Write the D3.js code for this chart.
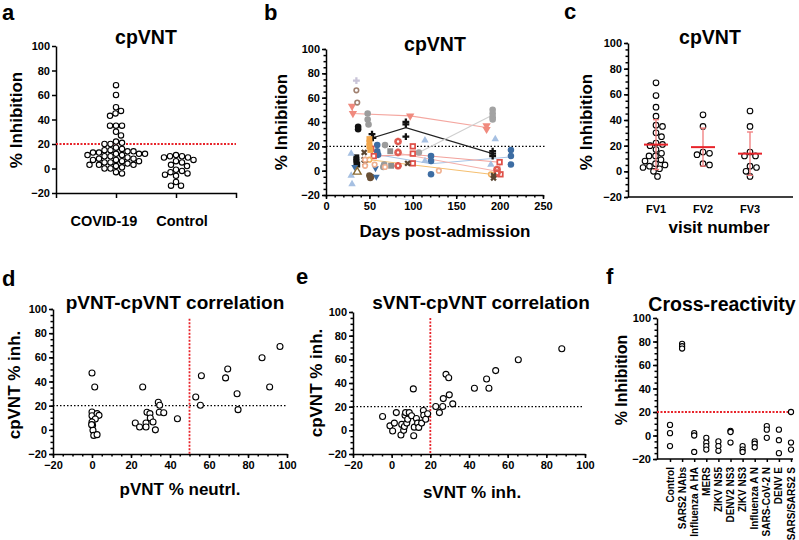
<!DOCTYPE html>
<html>
<head>
<meta charset="utf-8">
<script src="https://cdn.jsdelivr.net/npm/d3@7"></script>
<style>
  body { margin: 0; background: #fff; }
  svg { display: block; }
  text { font-family: 'Liberation Sans', Arial, sans-serif; font-weight: bold; fill: #000; }
</style>
</head>
<body>
<svg id="fig" width="799" height="540"></svg>
<script>
// ---- data ----
const pctTicks = [-20, 0, 20, 40, 60, 80, 100];
const dayTicks = [0, 50, 100, 150, 200, 250];

// a
const groupsA = ["COVID-19", "Control"];
const covidA = [68, 60, 50, 47, 45, 43, 35, 35, 35, 30, 27, 22, 21, 20, 20, 17, 16, 15, 15, 14, 14, 13, 13, 12, 12, 12,
  11, 11, 10, 10, 9, 8, 8, 7, 7, 6, 6, 5, 5, 4, 3, 3, 3, 2, 1, 0, 0, -3, -4];
const controlA = [11, 10, 10, 9, 9, 7, 6, 5, 3, 2, -1, -2, -3, -4, -5, -6, -11, -14, -14];

// b  [day, % inhibition] per patient
const bSalmon = [[30, 53], [31, 47], [97, 45], [185, 37], [185, 34]];
const bBlackPlus = [[53, 30], [54, 27], [92, 40], [92, 38], [92, 28], [192, 16], [192, 14], [192, 12]];
const bBlackOval = [[37, 36], [37, 34]];
const bBlackSq = [[35, 11], [35, 9], [35, 7], [36, 5]];
const bGreyA = [[48, 47], [48, 42], [49, 38], [68, 21], [67, 5], [66, 3]];
const bGreyB = [[107, 15], [192, 50], [192, 47], [192, 44], [192, 42]];
const bGreySq = [[74, 16], [75, 4]];
const bBlue = [[59, 21], [59, 16], [60, 13], [121, 12], [121, 8], [121, -3], [213, 17], [213, 12], [213, 5]];
const bRedSq = [[52, 18], [55, 12], [100, 20], [100, 14], [100, 6], [200, 7], [201, -3]];
const bRedRos = [[83, 24], [83, 15], [83, 4], [197, 1], [197, -2]];
const bOrangeSq = [[50, 26], [50, 23], [50, 20], [51, 17]];
const bOrange = [[50, 9], [190, -3]];
const bBrownX = [[44, 15], [44, 9], [45, 6], [94, 6], [193, -4], [193, -6]];
const bDarkBrown = [[50, -4], [51, -6], [52, -5]];
const bLightBlue = [[29, 14], [29, -4], [30, -11], [114, 25], [195, 26], [190, 5], [114, 8]];
const bBlueDown = [[33, 3], [57, 2], [58, -5]];
const bPeach = [[45, 9], [45, 4], [56, 5], [130, 0], [68, 3]];
const bLilac = [[35, 74]];
const bTaupe = [[35, 66], [36, 56]];
const bBrownTri = [[36, -1]];

// c
const visits = ["FV1", "FV2", "FV3"];
const fv1 = [69, 59, 50, 43, 36, 35, 30, 27, 22, 21, 20, 17, 14, 12, 12, 9, 8, 6, 5, 4, 3, 2, 0, -4];
const fv2 = [44, 35, 15, 14, 13, 6, 5];
const fv3 = [47, 35, 15, 12, 12, 4, 3, 0, -4];

// d
const pvntD = [0, 1.4, 0, 0, 2.6, 3.6, 1.7, 0, 0.3, 0.5, 0.9, 2.6, -0.2, 26, 22.2, 24.4, 27.7, 27.7, 28.2, 29.7, 29.9,
  31.3, 32.5, 34, 34.7, 34.5, 36.8, 43.8, 53.2, 55.6, 56.1, 68.5, 69.6, 74.4, 74.9, 87.2, 91.1, 96.4];
const cpvntD = [47, 35.4, 14.8, 11.7, 13.4, 12, 9, 6.5, 3.7, -0.4, -4.6, -4, 4.3, 35.4, 5.7, 2.3, 5.7, 2.3, 14.5, 13.4,
  9.8, 6.5, 0, 22.8, 20.3, 14.5, 14.2, 9.2, 27.2, 20.3, 44.7, 43, 50.3, 29.9, 16.7, 59.7, 35.4, 69];

// e
const svntE = [-4.7, 2.4, -0.9, 0.5, 1.4, 4.8, 5.2, 6.2, 6.6, 6.9, 7.2, 7.8, 8.3, 9.1, 10.3, 11.4, 11.2, 11.7, 12.8, 13.4,
  14, 15.5, 16.4, 16.6, 17.6, 18.6, 22.8, 24.7, 26.4, 26.7, 28.1, 29.5, 29.8, 31.6, 42.8, 49.1, 50.3, 53.8, 65.5, 88];
const cpvntE = [11.7, 15, 3.8, -0.6, 6.1, -4, 5, 0, 3.3, 12.8, 15, 6.1, 9.4, 15, 12.3, -4.6, 35, 2.7, 10, 6.1, 2.5, 6.1,
  16.8, 12.8, 9.4, 14, 20.1, 15, 20.1, 26.8, 47.3, 44.5, 30, 22.4, 35.6, 43.4, 35.6, 50.5, 59.7, 69];

// f
const targetsF = ["Control", "SARS2 NAbs", "Influenza A HA", "MERS", "ZIKV NS5", "DENV2 NS3", "ZIKV NS3",
  "Influenza A N", "SARS-CoV-2 N", "DENV E", "SARS/SARS2 S"];
const inhibF = [[9, 2, -9], [78, 76, 74], [2, 0, -14], [-2, -6, -9, -12], [-5, -9, -13], [4, 3, -6], [-9, -12, -14],
  [-5, -7, -10], [8, 5, -2], [5, -4, -15], [20, -6, -12]];

// ---- drawing ----
const svg = d3.select("#fig");
const RED = "#e8232a";

function styleAxis(g, fs) {
  g.selectAll("path, line").attr("stroke", "#000").attr("stroke-width", 1.5);
  g.selectAll("text").attr("font-size", fs || 11);
}

function leftAxis(y, x0, minorStep) {
  const g = svg.append("g").attr("transform", `translate(${x0},0)`)
    .call(d3.axisLeft(y).tickValues(pctTicks).tickSize(4).tickSizeOuter(0).tickPadding(2));
  if (minorStep) {
    g.append("g")
      .call(d3.axisLeft(y).tickValues(d3.range(-20, 101, minorStep)).tickSize(2.5).tickFormat(""))
      .select(".domain").remove();
  }
  styleAxis(g);
  return g;
}

function bottomAxis(x, y0, ticks, minorTicks) {
  const g = svg.append("g").attr("transform", `translate(0,${y0})`)
    .call(d3.axisBottom(x).tickValues(ticks).tickSize(4).tickSizeOuter(0).tickPadding(3));
  if (minorTicks) {
    g.append("g")
      .call(d3.axisBottom(x).tickValues(minorTicks).tickSize(2.5).tickFormat(""))
      .select(".domain").remove();
  }
  styleAxis(g);
  return g;
}

function label(x, y, s, size, anchor, rotate) {
  const t = svg.append("text").attr("font-size", size).attr("text-anchor", anchor || "middle").text(s);
  if (rotate) t.attr("transform", `translate(${x},${y}) rotate(-90)`);
  else t.attr("x", x).attr("y", y);
  return t;
}

function dotted(x1, y1, x2, y2, color) {
  svg.append("line").attr("x1", x1).attr("y1", y1).attr("x2", x2).attr("y2", y2)
    .attr("stroke", color).attr("stroke-width", color === "#000" ? 1.4 : 1.8)
    .attr("stroke-dasharray", color === "#000" ? "1.5,2" : "2,1.5");
}

function openDots(pts, r) {
  svg.append("g").selectAll("circle").data(pts).join("circle")
    .attr("cx", d => d[0]).attr("cy", d => d[1]).attr("r", r || 3)
    .attr("fill", "#fff").attr("stroke", "#000").attr("stroke-width", 1.1);
}

// simple beeswarm: nudge each point sideways until it doesn't overlap
function swarm(values, y, cx, dist) {
  const placed = [];
  values.slice().sort((a, b) => b - a).forEach(v => {
    const py = y(v);
    for (let k = 0; k < 400; k++) {
      const off = k === 0 ? 0 : (k % 2 ? 1 : -1) * Math.ceil(k / 2) * 0.5;
      if (placed.every(p => Math.hypot(p[0] - (cx + off), p[1] - py) >= dist)) {
        placed.push([cx + off, py]);
        break;
      }
    }
  });
  return placed;
}

// panel letters
[["a", 2, 20], ["b", 264, 20], ["c", 564, 19], ["d", 2, 286], ["e", 296, 284], ["f", 606, 284]]
  .forEach(d => label(d[1], d[2], d[0], 22, "start"));

// ===== a =====
const ya = d3.scaleLinear().domain([-20, 100]).range([193, 46]);
const xa = d3.scalePoint().domain(groupsA).range([56, 236]).padding(1);
leftAxis(ya, 56, 0);
const axA = svg.append("g").attr("transform", "translate(0,193)")
  .call(d3.axisBottom(xa).tickSize(5).tickSizeOuter(5).tickFormat(""));
styleAxis(axA);
label(xa("COVID-19") - 12, 226, "COVID-19", 14.5);
label(xa("Control") + 6, 226, "Control", 14.5);
dotted(56, ya(20), 236, ya(20), RED);
openDots(swarm(covidA, ya, xa("COVID-19"), 6.0), 2.7);
openDots(swarm(controlA, ya, xa("Control"), 6.0), 2.7);
label(146, 44, "cpVNT", 19.5);
label(22, 120, "% Inhibition", 17, "middle", true);

// ===== b =====
const yb = d3.scaleLinear().domain([-20, 100]).range([195, 49]);
const xb = d3.scaleLinear().domain([0, 250]).range([326, 543]);
leftAxis(yb, 326, 5);
bottomAxis(xb, 195, dayTicks, d3.range(0, 251, 10));
dotted(326, yb(20), 545, yb(20), "#000");
label(435, 51, "cpVNT", 19.5);
label(287, 122, "% Inhibition", 17, "middle", true);
label(445, 237, "Days post-admission", 17);

const bPatients = [
  ["salmonTri", bSalmon], ["blackPlus", bBlackPlus], ["blackOval", bBlackOval], ["blackSq", bBlackSq],
  ["greyA", bGreyA], ["greyB", bGreyB], ["greySq", bGreySq], ["blue", bBlue], ["redSq", bRedSq],
  ["redRos", bRedRos], ["orangeSq", bOrangeSq], ["orange", bOrange], ["brownX", bBrownX],
  ["darkBrown", bDarkBrown], ["lightBlue", bLightBlue], ["blueDown", bBlueDown], ["peach", bPeach],
  ["lilac", bLilac], ["taupe", bTaupe], ["brownTri", bBrownTri]
];
const bStyle = {
  salmonTri: { c: "#f08a7e", line: "#f4a7a0", shape: "down" },
  blackPlus: { c: "#111", line: "#222", shape: "plus" },
  blackOval: { c: "#111", shape: "circle" },
  blackSq: { c: "#111", shape: "square" },
  greyA: { c: "#9c9c9c", shape: "circle" },
  greyB: { c: "#a3a3a3", line: "#cfcfcf", shape: "circle" },
  greySq: { c: "#8e8e8e", shape: "square" },
  blue: { c: "#3d6da3", line: "#a9c5e6", shape: "circle" },
  redSq: { c: "#df5048", line: "#f2a29c", shape: "squareHole" },
  redRos: { c: "#e05a50", line: "#f5b0aa", shape: "rosette" },
  orangeSq: { c: "#f2a64a", shape: "square" },
  orange: { c: "#f2b060", line: "#f5bf70", shape: "ring" },
  brownX: { c: "#5a4632", shape: "x" },
  darkBrown: { c: "#6a5035", shape: "circle" },
  lightBlue: { c: "#a6c0e2", shape: "triangle" },
  blueDown: { c: "#3d6da3", shape: "downSmall" },
  peach: { c: "#f0b090", shape: "ring" },
  lilac: { c: "#c9c4d8", shape: "plus" },
  taupe: { c: "#a08070", shape: "ring" },
  brownTri: { c: "#8a6a30", shape: "triOpen" }
};

const lineB = d3.line().x(d => xb(d[0])).y(d => yb(d[1]));
bPatients.forEach(([key, pts]) => {
  const st = bStyle[key];
  if (!st.line) return;
  const means = d3.rollups(pts, v => d3.mean(v, d => d[1]), d => d[0]).sort((a, b) => a[0] - b[0]);
  svg.append("path").datum(means).attr("d", lineB).attr("fill", "none")
    .attr("stroke", st.line).attr("stroke-width", 1.1);
});

const sym = d3.symbol();
bPatients.forEach(([key, pts]) => {
  const st = bStyle[key];
  const g = svg.append("g");
  pts.forEach(p => {
    const gx = g.append("g").attr("transform", `translate(${xb(p[0])},${yb(p[1])})`);
    switch (st.shape) {
      case "circle":
        gx.append("path").attr("d", sym.type(d3.symbolCircle).size(34)()).attr("fill", st.c); break;
      case "ring":
        gx.append("circle").attr("r", 2.3).attr("fill", "#fff").attr("stroke", st.c).attr("stroke-width", 1.6); break;
      case "square":
        gx.append("path").attr("d", sym.type(d3.symbolSquare).size(34)()).attr("fill", st.c); break;
      case "squareHole":
        gx.append("path").attr("d", sym.type(d3.symbolSquare).size(40)()).attr("fill", st.c);
        gx.append("path").attr("d", sym.type(d3.symbolSquare).size(8)()).attr("fill", "#fff"); break;
      case "rosette":
        gx.append("path").attr("d", sym.type(d3.symbolCross).size(32)()).attr("fill", st.c);
        gx.append("path").attr("d", sym.type(d3.symbolCross).size(32)()).attr("fill", st.c).attr("transform", "rotate(45)");
        gx.append("circle").attr("r", 1.2).attr("fill", "#fff"); break;
      case "plus":
        gx.append("path").attr("d", sym.type(d3.symbolCross).size(26)()).attr("fill", st.c); break;
      case "x":
        gx.append("path").attr("d", sym.type(d3.symbolCross).size(26)()).attr("fill", st.c).attr("transform", "rotate(45)"); break;
      case "down":
        gx.append("path").attr("d", sym.type(d3.symbolTriangle).size(30)()).attr("fill", st.c).attr("transform", "rotate(180)"); break;
      case "downSmall":
        gx.append("path").attr("d", sym.type(d3.symbolTriangle).size(20)()).attr("fill", st.c).attr("transform", "rotate(180)"); break;
      case "triangle":
        gx.append("path").attr("d", sym.type(d3.symbolTriangle).size(24)()).attr("fill", st.c); break;
      case "triOpen":
        gx.append("path").attr("d", sym.type(d3.symbolTriangle).size(26)()).attr("fill", "#fff")
          .attr("stroke", st.c).attr("stroke-width", 1.4); break;
    }
  });
});

// ===== c =====
const yc = d3.scaleLinear().domain([-20, 100]).range([197, 43]);
const xc = d3.scalePoint().domain(visits).range([656, 750]);
leftAxis(yc, 628, 5);
svg.append("line").attr("x1", 628).attr("x2", 793).attr("y1", 197).attr("y2", 197)
  .attr("stroke", "#000").attr("stroke-width", 1.5);
visits.forEach(v => label(xc(v), 213, v, 11));
[fv1, fv2, fv3].forEach((vals, i) => {
  const cx = xc(visits[i]);
  const m = d3.mean(vals), sd = d3.deviation(vals);
  openDots(swarm(vals, yc, cx, 6.4), 2.8);
  const eb = svg.append("g").attr("stroke", "#f07a7a").attr("stroke-width", 1.3);
  eb.append("line").attr("x1", cx).attr("x2", cx).attr("y1", yc(m + sd)).attr("y2", yc(m - sd));
  eb.append("line").attr("x1", cx - 3).attr("x2", cx + 3).attr("y1", yc(m + sd)).attr("y2", yc(m + sd));
  eb.append("line").attr("x1", cx - 3).attr("x2", cx + 3).attr("y1", yc(m - sd)).attr("y2", yc(m - sd));
  svg.append("line").attr("x1", cx - 12).attr("x2", cx + 12).attr("y1", yc(m)).attr("y2", yc(m))
    .attr("stroke", RED).attr("stroke-width", 2);
});
label(710, 44, "cpVNT", 19.5);
label(592, 122, "% Inhibition", 17, "middle", true);
label(719, 233, "visit number", 17);

// ===== d =====
const yd = d3.scaleLinear().domain([-20, 100]).range([454, 309]);
const xd = d3.scaleLinear().domain([-20, 100]).range([53, 287]);
leftAxis(yd, 53, 5);
bottomAxis(xd, 454, pctTicks, d3.range(-20, 101, 5));
dotted(53, yd(20), 287, yd(20), "#000");
dotted(xd(50), yd(92), xd(50), yd(-20), RED);
openDots(pvntD.map((v, i) => [xd(v), yd(cpvntD[i])]));
label(175, 309, "pVNT-cpVNT correlation", 19);
label(20, 385, "cpVNT % inh.", 17, "middle", true);
label(180, 495, "pVNT % neutrl.", 17);

// ===== e =====
const ye = d3.scaleLinear().domain([-20, 100]).range([454, 312]);
const xe = d3.scaleLinear().domain([-20, 100]).range([353, 585]);
leftAxis(ye, 353, 5);
bottomAxis(xe, 454, pctTicks, d3.range(-20, 101, 5));
dotted(353, ye(20), 583, ye(20), "#000");
dotted(xe(20), ye(95), xe(20), ye(-20), RED);
openDots(svntE.map((v, i) => [xe(v), ye(cpvntE[i])]));
label(481, 309, "sVNT-cpVNT correlation", 19);
label(322, 383, "cpVNT % inh.", 17, "middle", true);
label(472, 498, "sVNT % inh.", 17);

// ===== f =====
const yf = d3.scaleLinear().domain([-20, 100]).range([459, 318]);
const xf = d3.scalePoint().domain(targetsF).range([670, 791]);
leftAxis(yf, 657, 5);
const axF = svg.append("g").attr("transform", "translate(0,459)")
  .call(d3.axisBottom(xf).tickSize(3).tickSizeOuter(0).tickFormat(""));
axF.select(".domain").attr("d", "M657,0H793");
styleAxis(axF);
targetsF.forEach(t => label(xf(t) + 3.5, 467, t, 10, "end", true));
dotted(657, yf(20), 793, yf(20), RED);
const ptsF = [];
inhibF.forEach((vals, i) => vals.forEach(v => ptsF.push([xf(targetsF[i]), yf(v)])));
openDots(ptsF, 2.6);
label(722, 311, "Cross-reactivity", 19.5);
label(627, 380, "% Inhibition", 16, "middle", true);
</script>
</body>
</html>
